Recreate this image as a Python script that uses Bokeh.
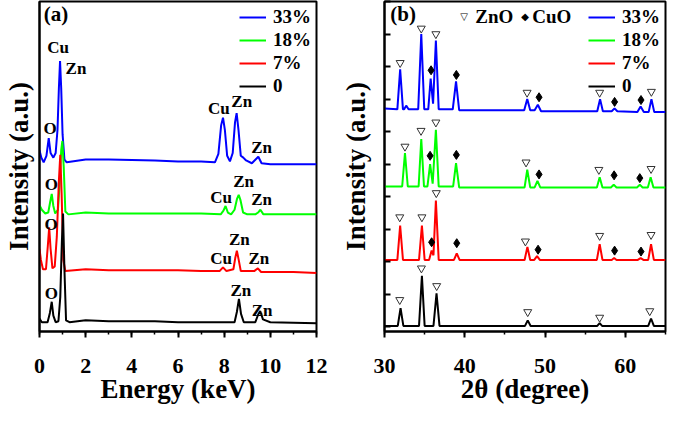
from bokeh.plotting import figure
from bokeh.models import Range1d, SingleIntervalTicker, FixedTicker, Legend, LegendItem
from bokeh.layouts import row
from bokeh.embed import file_html
from bokeh.resources import INLINE
from bokeh.core.properties import value

# ---------------- data ----------------
series = ["33%", "18%", "7%", "0"]
colors = ["#0000ff", "#00ff00", "#ff0000", "#000000"]

# (a) EDS spectra, energy (keV) vs intensity (a.u., stacked)
eds_x_33 = [0, 0.08, 0.18, 0.30, 0.40, 0.48, 0.60, 0.70, 0.78, 0.84, 0.89, 0.94, 1.00, 1.08, 1.18, 2, 3, 4, 5, 6, 7, 7.6, 7.75, 7.87, 7.95, 8.03, 8.13, 8.25, 8.37, 8.47, 8.54, 8.62, 8.72, 8.83, 8.95, 9.2, 9.36, 9.48, 9.62, 10, 11, 12]
eds_y_33 = [190, 182, 177, 184, 203, 187, 182, 187, 212, 257, 286, 257, 207, 180, 177, 180, 180, 179.5, 179, 178, 178, 177, 186, 217, 225, 212, 184, 178, 187, 220, 230, 212, 184, 182, 179, 176, 180, 183, 176, 175, 175, 175]
eds_x_18 = [0, 0.10, 0.25, 0.38, 0.46, 0.53, 0.60, 0.68, 0.80, 0.88, 0.94, 0.99, 1.05, 1.12, 1.25, 2, 3, 4, 5, 6, 7, 7.85, 7.97, 8.06, 8.16, 8.3, 8.45, 8.56, 8.63, 8.71, 8.82, 9.0, 9.35, 9.47, 9.57, 9.7, 10, 11, 12]
eds_y_18 = [131, 126, 122, 123, 134, 143, 130, 122, 126, 157, 190, 200, 172, 124, 121, 123, 122, 122, 122, 122, 122, 121, 125, 130, 123, 121, 126, 138, 142, 136, 123, 121, 121, 123, 126, 121, 121, 121, 121]
eds_x_7 = [0, 0.06, 0.15, 0.28, 0.36, 0.42, 0.48, 0.56, 0.66, 0.75, 0.84, 0.90, 0.96, 1.03, 1.12, 2, 3, 4, 5, 6, 7, 7.8, 7.95, 8.1, 8.4, 8.48, 8.55, 8.63, 8.72, 9.3, 9.46, 9.6, 10, 11, 12]
eds_y_7 = [84, 72, 62, 62, 87, 107, 84, 63, 65, 97, 157, 185, 142, 72, 60, 62, 61, 61, 61, 61, 60, 60, 64, 60, 62, 74, 82, 72, 60, 60, 63, 59, 59, 59, 58]
eds_x_0 = [0, 0.1, 0.35, 0.45, 0.53, 0.60, 0.70, 0.82, 0.90, 0.97, 1.02, 1.08, 1.15, 1.3, 2, 3, 4, 5, 6, 7, 8, 8.45, 8.55, 8.64, 8.73, 8.85, 9.35, 9.47, 9.56, 9.68, 10, 11, 12]
eds_y_0 = [9, 5, 5, 15, 27, 12, 5, 6, 32, 92, 122, 62, 7, 5, 7, 6, 6, 6, 5, 5, 5, 5, 16, 30, 14, 5, 5, 13, 17, 8, 5, 4.5, 4]

eds_peak_text = ["Cu", "Zn", "O", "Cu", "Zn", "Zn",
                 "O", "Zn", "Cu", "Zn",
                 "O", "Zn", "Cu", "Zn",
                 "O", "Zn", "Zn"]
eds_peak_x = [0.81, 1.58, 0.46, 7.77, 8.76, 9.62,
              0.51, 8.84, 7.87, 9.62,
              0.50, 8.66, 7.87, 9.50,
              0.51, 8.72, 9.64]
eds_peak_y = [300, 278, 213, 235, 242, 192.5,
              153.5, 156, 139.5, 136.7,
              110, 94.5, 73, 73,
              36, 39.5, 18]

# (b) XRD patterns, 2theta (degree) vs intensity (a.u., stacked)
xrd_x_33 = [30.0, 31.6, 31.95, 32.3, 32.45, 32.7, 33.0, 34.2, 34.58, 34.95, 35.45, 35.75, 36.05, 36.4, 36.75, 38.5, 38.91, 39.3, 47.4, 47.78, 48.15, 48.7, 49.1, 49.5, 56.5, 56.85, 57.2, 58.3, 58.65, 59.0, 61.5, 61.9, 62.3, 62.9, 63.25, 63.6, 65.0]
xrd_y_33 = [235, 234, 277, 234, 234, 238, 234, 234, 315, 234, 234, 267, 240, 308, 234, 234, 264, 233, 233, 245, 233, 233, 239, 232, 232, 245, 232, 232, 235, 232, 231, 237, 231, 231, 245, 231, 231]
xrd_x_18 = [30.0, 32.2, 32.55, 32.9, 34.25, 34.58, 34.92, 35.35, 35.68, 36.0, 36.4, 36.75, 38.55, 38.91, 39.3, 47.45, 47.78, 48.15, 48.7, 49.05, 49.4, 56.45, 56.8, 57.15, 58.2, 58.55, 58.9, 61.45, 61.8, 62.15, 62.8, 63.15, 63.5, 65.0]
xrd_y_18 = [151, 151, 187, 151, 151, 202, 151, 151, 175, 154, 212, 151, 151, 176, 150, 150, 169, 150, 150, 157, 150, 150, 161, 150, 150, 153, 150, 150, 153, 150, 150, 161, 150, 150]
xrd_x_7 = [30.0, 31.6, 31.95, 32.3, 34.3, 34.66, 35.0, 35.55, 35.87, 36.1, 36.4, 36.75, 38.65, 39.0, 39.35, 47.45, 47.8, 48.15, 48.65, 49.0, 49.35, 56.45, 56.8, 57.15, 58.3, 58.6, 58.9, 61.55, 61.9, 62.25, 62.85, 63.2, 63.55, 65.0]
xrd_y_7 = [72, 72, 109, 72, 72, 109, 72, 72, 82, 77, 136, 72, 72, 79, 72, 72, 86, 72, 72, 76, 72, 72, 89, 72, 72, 74, 72, 72, 74, 72, 72, 89, 72, 72]
xrd_x_0 = [30.0, 31.65, 32.0, 32.35, 34.3, 34.66, 35.0, 36.1, 36.48, 36.85, 47.5, 47.84, 48.2, 56.5, 56.8, 57.1, 62.85, 63.2, 63.55, 65.0]
xrd_y_0 = [1, 1, 20, 1, 1, 55, 1, 1, 36, 1, 1, 7, 1, 1, 4, 1, 1, 9, 1, 1]

# phase markers above the peaks
zno_x = [31.95, 34.58, 36.4, 47.76, 56.8, 63.24,
         32.55, 34.55, 36.4, 47.63, 56.7, 63.2,
         31.9, 34.66, 36.45, 47.55, 56.8, 63.2,
         31.9, 34.6, 36.5, 47.84, 56.8, 63.04]
zno_y = [284, 321, 315, 252, 252, 253,
         194, 211, 220, 177, 169, 170,
         118, 118, 144, 92, 98, 99,
         29, 63, 44, 16, 10, 17]
cuo_x = [35.8, 38.95, 49.25, 58.66, 61.95,
         35.68, 38.95, 49.25, 58.6, 61.8,
         35.87, 39.0, 49.13, 58.66, 61.95]
cuo_y = [276, 271, 247, 242, 244,
         184, 185, 164, 163, 160,
         91, 90, 83, 82, 81]

FONT = "Times New Roman"


def base_fig(xr, width, mleft, mright):
    p = figure(width=width, height=406, x_range=Range1d(*xr), y_range=Range1d(-5, 350),
               output_backend="svg", toolbar_location=None,
               min_border_left=mleft, min_border_right=mright,
               min_border_top=1, min_border_bottom=66)
    p.xgrid.visible = False
    p.ygrid.visible = False
    p.outline_line_color = "black"
    p.outline_line_width = 2
    p.outline_line_alpha = 1
    for ax in (p.xaxis[0], p.yaxis[0]):
        ax.axis_line_width = 2
        ax.axis_line_color = "black"
        ax.major_tick_line_width = 2
        ax.minor_tick_line_width = 1.5
        ax.major_label_text_font = FONT
        ax.major_label_text_font_style = "bold"
        ax.major_label_text_font_size = "22px"
        ax.major_label_text_color = "black"
        ax.axis_label_text_font = FONT
        ax.axis_label_text_font_style = "bold"
        ax.axis_label_text_font_size = "27px"
        ax.axis_label_text_color = "black"
    xa = p.xaxis[0]
    xa.major_tick_out = 6
    xa.major_tick_in = 0
    xa.minor_tick_out = 3
    xa.minor_tick_in = 0
    xa.major_label_standoff = 21
    xa.axis_label_standoff = -2
    ya = p.yaxis[0]
    ya.axis_label = "Intensity (a.u.)"
    ya.major_label_text_font_size = "0px"
    ya.major_label_text_color = None
    ya.major_label_standoff = 0
    ya.minor_tick_line_color = None
    return p


def add_legend(p, renderers):
    items = [LegendItem(label=s, renderers=[r]) for s, r in zip(series, renderers)]
    leg = Legend(items=items, location="top_right", margin=0, padding=5, spacing=1,
                 label_height=20, glyph_height=20, glyph_width=27, label_standoff=7,
                 background_fill_alpha=0, border_line_alpha=0,
                 label_text_font=FONT, label_text_font_style="bold",
                 label_text_font_size="19px", label_text_color="black")
    p.add_layout(leg)


# ---------------- panel (a) ----------------
p1 = base_fig((0, 12), 330, 36, 14)
p1.xaxis[0].ticker = SingleIntervalTicker(interval=2, num_minor_ticks=2)
p1.xaxis[0].axis_label = "Energy (keV)"
p1.yaxis[0].ticker = FixedTicker(ticks=[])
p1.yaxis[0].major_tick_out = 0
p1.yaxis[0].major_tick_in = 0
p1.yaxis[0].axis_label_standoff = 6

eds = [(eds_x_33, eds_y_33), (eds_x_18, eds_y_18), (eds_x_7, eds_y_7), (eds_x_0, eds_y_0)]
r1 = [p1.line(x, y, line_color=c, line_width=2) for (x, y), c in zip(eds, colors)]
add_legend(p1, r1)
p1.text(x=eds_peak_x, y=eds_peak_y, text=eds_peak_text, text_font=value(FONT),
        text_font_style="bold", text_font_size=value("17px"), text_color="black",
        text_align="center", text_baseline="middle")
p1.text(x=[0.18], y=[337], text=["(a)"], text_font=value(FONT), text_font_style="bold",
        text_font_size=value("21px"), text_color="black", text_align="left",
        text_baseline="middle")

# ---------------- panel (b) ----------------
p2 = base_fig((30, 65), 339, 54, 4)
p2.xaxis[0].ticker = SingleIntervalTicker(interval=10, num_minor_ticks=2)
p2.xaxis[0].axis_label = "2θ (degree)"
p2.yaxis[0].ticker = SingleIntervalTicker(interval=35, num_minor_ticks=0)
p2.yaxis[0].major_tick_in = 6
p2.yaxis[0].major_tick_out = 0
p2.yaxis[0].axis_label_standoff = 14

xrd = [(xrd_x_33, xrd_y_33), (xrd_x_18, xrd_y_18), (xrd_x_7, xrd_y_7), (xrd_x_0, xrd_y_0)]
r2 = [p2.line(x, y, line_color=c, line_width=2) for (x, y), c in zip(xrd, colors)]
add_legend(p2, r2)
p2.scatter(zno_x, zno_y, marker="inverted_triangle", size=8, fill_color="white",
           line_color="#333333", line_width=1)
p2.scatter(cuo_x, cuo_y, marker="diamond", size=9, fill_color="black", line_color="black")
p2.text(x=[30.73], y=[337], text=["(b)"], text_font=value(FONT), text_font_style="bold",
        text_font_size=value("21px"), text_color="black", text_align="left",
        text_baseline="middle")
p2.text(x=[39.9, 47.5], y=[334, 334], text=["▽", "◆"], text_font=value("DejaVu Sans"),
        text_font_size=value("10px"), text_color="black", text_align="center",
        text_baseline="middle")
p2.text(x=[41.3, 48.4], y=[334, 334], text=["ZnO", "CuO"], text_font=value(FONT),
        text_font_style="bold", text_font_size=value("19px"), text_color="black",
        text_align="left", text_baseline="middle")

layout = row(p1, p2)
open("out.html", "w").write(file_html(layout, INLINE))
